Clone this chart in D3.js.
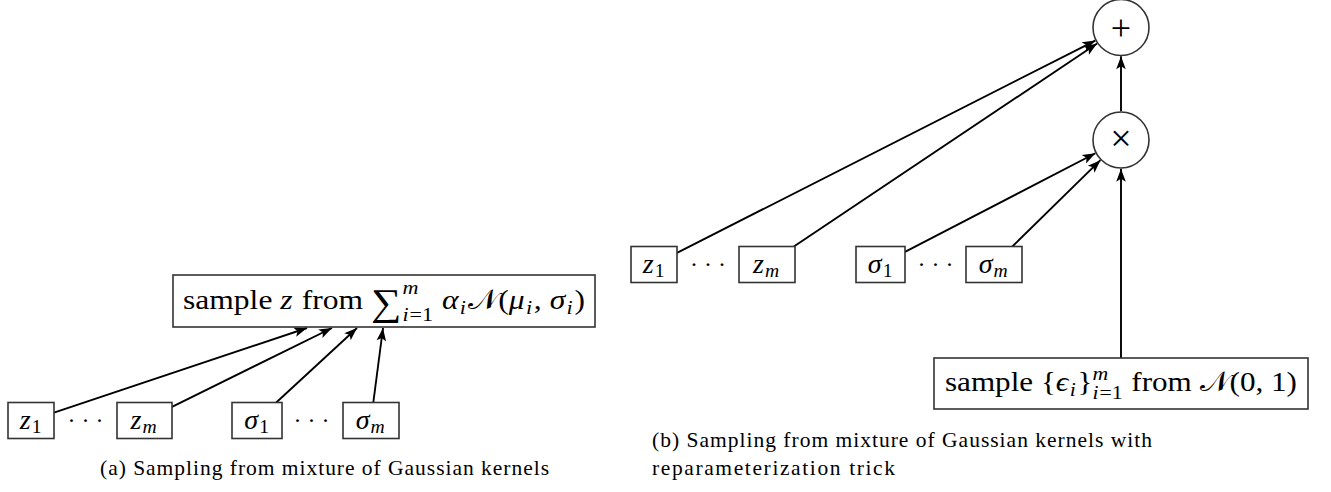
<!DOCTYPE html>
<html>
<head>
<meta charset="utf-8">
<script src="https://cdn.jsdelivr.net/npm/d3@7"></script>
<style>
  body { margin: 0; background: #fff; }
  svg text { font-family: "Liberation Serif", "DejaVu Serif", serif; fill: #000; }
</style>
</head>
<body>
<div class="chart"></div>
<script>
var svgWidth = 1331;
var svgHeight = 492;

// ---- content ----
// math runs: [text, italic?]; {sub: [...]} / {sup: [...]} attach scripts; {big: "∑"} large operator
var inputLabels = [
    [["z", true], { sub: [["1", false]] }],
    [["z", true], { sub: [["m", true]] }],
    [["σ", true], { sub: [["1", false]] }],
    [["σ", true], { sub: [["m", true]] }]
];
var mainLabel = [
    ["sample ", false], ["z", true], [" from ", false],
    { big: "∑" }, { sup: [["m", true]], sub: [["i", true], ["=1", false]] },
    [" ", false], ["α", true], { sub: [["i", true]] }, ["𝒩", false], ["(", false],
    ["μ", true], { sub: [["i", true]] }, [", ", false], ["σ", true], { sub: [["i", true]] }, [")", false]
];
var epsLabel = [
    ["sample ", false], ["{", false], ["ϵ", true], { sub: [["i", true]] }, ["}", false],
    { sup: [["m", true]], sub: [["i", true], ["=1", false]] },
    [" from ", false], ["𝒩", false], ["(0, 1)", false]
];
var dotsLabel = "· · ·";
var opLabels = ["+", "×"];
var captionA = ["(a) Sampling from mixture of Gaussian kernels"];
var captionB = ["(b) Sampling from mixture of Gaussian kernels with", "reparameterization trick"];

// panel (a): every input points at the sampling box
// panel (b): from -> to
var edgesB = [
    ["z1", "plus"], ["zm", "plus"], ["s1", "times"], ["sm", "times"],
    ["times", "plus"], ["eps", "times"]
];

// ---- layout (pixels) ----
var boxH = 36;
var layoutA = {
    y: 420.5,
    boxes: [[8, 54], [117, 172], [232, 282], [343, 399]],
    dots: [85.5, 311.5],
    main: { x0: 173, x1: 595, y0: 275, y1: 327, textW: 402 },
    targets: [-77, -52, -27, -1],   // arrow tips, offset from box centre on its bottom edge
    caption: { x: 100, y: 475, w: [449] }
};
var layoutB = {
    y: 264.5,
    ids: ["z1", "zm", "s1", "sm"],
    boxes: [[631, 677], [739, 795], [856, 905], [966, 1022]],
    dots: [708, 935.5],
    circles: { plus: [1121, 27.5], times: [1121, 140] },
    r: 28,
    eps: { x0: 934, x1: 1308, y0: 358, y1: 409, textW: 352 },
    caption: { x: 652, y: 447, dy: 28, w: [500, 243] }
};

var fsBox = 28;
var fsCap = 21.5;

var svg = d3.select(".chart")
    .append("svg")
    .attr("width", svgWidth)
    .attr("height", svgHeight);

svg.append("defs").append("marker")
    .attr("id", "arrow")
    .attr("markerUnits", "userSpaceOnUse")
    .attr("viewBox", "-14 -6 15 12")
    .attr("markerWidth", 15)
    .attr("markerHeight", 12)
    .attr("refX", 0)
    .attr("refY", 0)
    .attr("orient", "auto")
    .append("path")
    .attr("d", "M0,0 L-13,-4.8 L-10,0 L-13,4.8 Z")
    .attr("fill", "#000");

function runText(g, x, y, r, fs) {
    var t = g.append("text").attr("x", x).attr("y", y)
        .attr("font-size", fs)
        .attr("font-style", r[1] ? "italic" : "normal")
        .style("white-space", "pre")
        .text(r[0]);
    return t.node().getComputedTextLength() + (r[1] ? fs * 0.04 : 0);
}

function scriptRuns(g, x0, y, runs, fs) {
    var x = x0;
    runs.forEach(function (r) { x += runText(g, x, y, r, fs); });
    return x - x0;
}

// lay out math runs centred at cx on baseline; optional target width
function mathText(g, cx, base, runs, fs, targetW) {
    var grp = g.append("g");
    var x = 0, prevBig = false;
    runs.forEach(function (r) {
        if (r.big) {
            var t = grp.append("text").attr("x", x).attr("y", base + fs * 0.2)
                .attr("font-size", fs * 1.35).text(r.big);
            x += t.node().getComputedTextLength() + 1;
            prevBig = true;
            return;
        }
        if (r.sub || r.sup) {
            var both = r.sub && r.sup;
            var subDy = prevBig ? fs * 0.42 : (both ? fs * 0.26 : fs * 0.17);
            var supDy = prevBig ? -fs * 0.55 : -fs * 0.42;
            var w1 = r.sup ? scriptRuns(grp, x, base + supDy, r.sup, fs * 0.7) : 0;
            var w2 = r.sub ? scriptRuns(grp, x, base + subDy, r.sub, fs * 0.7) : 0;
            x += Math.max(w1, w2) + fs * 0.03;
            prevBig = false;
            return;
        }
        x += runText(grp, x, base, r, fs);
        prevBig = false;
    });
    var sx = targetW ? targetW / x : 1;
    grp.attr("transform", `translate(${cx - x * sx / 2}, 0) scale(${sx}, 1)`);
    return x;
}

function box(g, x0, x1, y0, y1) {
    g.append("rect")
        .attr("x", x0).attr("y", y0)
        .attr("width", x1 - x0).attr("height", y1 - y0)
        .attr("fill", "#fff")
        .attr("stroke", "#333")
        .attr("stroke-width", 1.6);
}

// clip ray from centre (cx,cy) toward (tx,ty) at rectangle border
function clipRect(cx, cy, hw, hh, tx, ty) {
    var dx = tx - cx, dy = ty - cy;
    var s = Math.min(dx ? Math.abs(hw / dx) : Infinity, dy ? Math.abs(hh / dy) : Infinity);
    return [cx + dx * s, cy + dy * s];
}

function arrow(g, p0, p1) {
    g.append("line")
        .attr("x1", p0[0]).attr("y1", p0[1])
        .attr("x2", p1[0]).attr("y2", p1[1])
        .attr("stroke", "#000")
        .attr("stroke-width", 1.9)
        .attr("marker-end", "url(#arrow)");
}

function inputRow(g, lay) {
    lay.boxes.forEach(function (b, i) {
        box(g, b[0], b[1], lay.y - boxH / 2, lay.y + boxH / 2);
        mathText(g, (b[0] + b[1]) / 2, lay.y + 8, inputLabels[i], fsBox);
    });
    lay.dots.forEach(function (x) {
        g.append("text").attr("x", x).attr("y", lay.y + 7)
            .attr("text-anchor", "middle").attr("font-size", 24)
            .style("white-space", "pre").text(dotsLabel);
    });
}

function caption(g, lay, lines) {
    lines.forEach(function (line, i) {
        g.append("text").attr("x", lay.x).attr("y", lay.y + i * (lay.dy || 0))
            .attr("font-size", fsCap)
            .attr("textLength", lay.w[i]).attr("lengthAdjust", "spacing")
            .text(line);
    });
}

// ---- panel (a) ----
var gA = svg.append("g");
var mA = layoutA.main;
var mAcx = (mA.x0 + mA.x1) / 2;
layoutA.boxes.forEach(function (b, i) {
    var cx = (b[0] + b[1]) / 2;
    var tx = mAcx + layoutA.targets[i];
    var p0 = clipRect(cx, layoutA.y, (b[1] - b[0]) / 2, boxH / 2, tx, mA.y1);
    arrow(gA, p0, [tx, mA.y1 + 1]);
});
box(gA, mA.x0, mA.x1, mA.y0, mA.y1);
mathText(gA, mAcx, (mA.y0 + mA.y1) / 2 + 8, mainLabel, fsBox, mA.textW);
inputRow(gA, layoutA);
caption(gA, layoutA.caption, captionA);

// ---- panel (b) ----
var gB = svg.append("g");
var nodes = {};
layoutB.ids.forEach(function (id, i) {
    var b = layoutB.boxes[i];
    nodes[id] = { type: "rect", cx: (b[0] + b[1]) / 2, cy: layoutB.y, hw: (b[1] - b[0]) / 2, hh: boxH / 2 };
});
var e = layoutB.eps;
nodes.eps = { type: "rect", cx: (e.x0 + e.x1) / 2, cy: (e.y0 + e.y1) / 2, hw: (e.x1 - e.x0) / 2, hh: (e.y1 - e.y0) / 2 };
Object.keys(layoutB.circles).forEach(function (k) {
    var c = layoutB.circles[k];
    nodes[k] = { type: "circle", cx: c[0], cy: c[1], r: layoutB.r };
});

function border(n, tx, ty) {
    if (n.type === "circle") {
        var dx = tx - n.cx, dy = ty - n.cy, d = Math.hypot(dx, dy);
        return [n.cx + dx / d * (n.r + 0.8), n.cy + dy / d * (n.r + 0.8)];
    }
    return clipRect(n.cx, n.cy, n.hw, n.hh, tx, ty);
}

edgesB.forEach(function (ed) {
    var a = nodes[ed[0]], b = nodes[ed[1]];
    arrow(gB, border(a, b.cx, b.cy), border(b, a.cx, a.cy));
});

inputRow(gB, layoutB);
["plus", "times"].forEach(function (k, i) {
    var c = layoutB.circles[k];
    gB.append("circle").attr("cx", c[0]).attr("cy", c[1]).attr("r", layoutB.r)
        .attr("fill", "#fff").attr("stroke", "#333").attr("stroke-width", 1.6);
    gB.append("text").attr("x", c[0]).attr("y", c[1] + (i === 0 ? 12 : 11))
        .attr("text-anchor", "middle").attr("font-size", i === 0 ? 36 : 38)
        .text(opLabels[i]);
});
box(gB, e.x0, e.x1, e.y0, e.y1);
mathText(gB, nodes.eps.cx, (e.y0 + e.y1) / 2 + 8, epsLabel, fsBox, e.textW);
caption(gB, layoutB.caption, captionB);
</script>
</body>
</html>
